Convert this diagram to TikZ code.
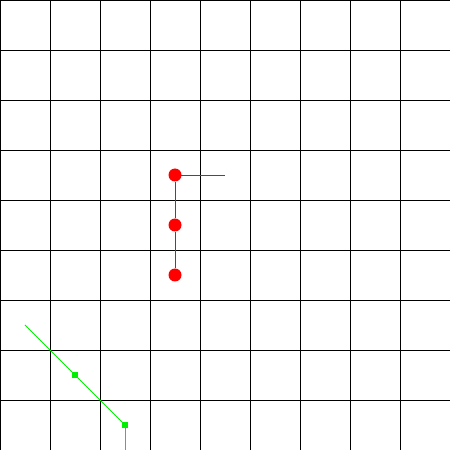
\documentclass[tikz,border=0pt]{standalone}
\usepackage{tikz}
\usetikzlibrary{positioning}
\definecolor{dotred}{HTML}{FF0000}
\definecolor{pathgreen}{HTML}{00EE00}
\tikzset{
  gridline/.style={black,line width=0.45pt},
  reddot/.style={circle,fill=dotred,draw=none,minimum size=0.26cm,inner sep=0pt},
  greensq/.style={rectangle,fill=pathgreen,draw=none,minimum size=0.11cm,inner sep=0pt},
  redlink/.style={dotred,line width=0.5pt},
  greenlink/.style={pathgreen,line width=0.5pt},
}
\begin{document}
\begin{tikzpicture}
  \fill[white] (0,0) rectangle (9,9);
  \useasboundingbox (0,0) rectangle (9,9);
  % grid
  \foreach \i in {0,...,8} {
    \draw[gridline] (\i,0) -- (\i,9);
    \draw[gridline] (0,9-\i) -- (9,9-\i);
  }
  % red chain
  \node[reddot] (r1) at (3.5,5.5) {};
  \node[reddot] (r2) at (3.5,4.5) {};
  \node[reddot] (r3) at (3.5,3.5) {};
  \coordinate (rend) at (4.5,5.5);
  \draw[redlink] (r1.center) -- (rend);
  \draw[redlink] (r1) -- (r2);
  \draw[redlink] (r2) -- (r3);
  % green path
  \coordinate (gstart) at (0.5,2.5);
  \node[greensq] (g1) at (1.5,1.5) {};
  \node[greensq] (g2) at (2.5,0.5) {};
  \coordinate (gend) at (2.5,0);
  \draw[greenlink] (gstart) -- (g1.center) -- (g2.center);
  \draw[greenlink] (g2) -- (gend);
\end{tikzpicture}
\end{document}
